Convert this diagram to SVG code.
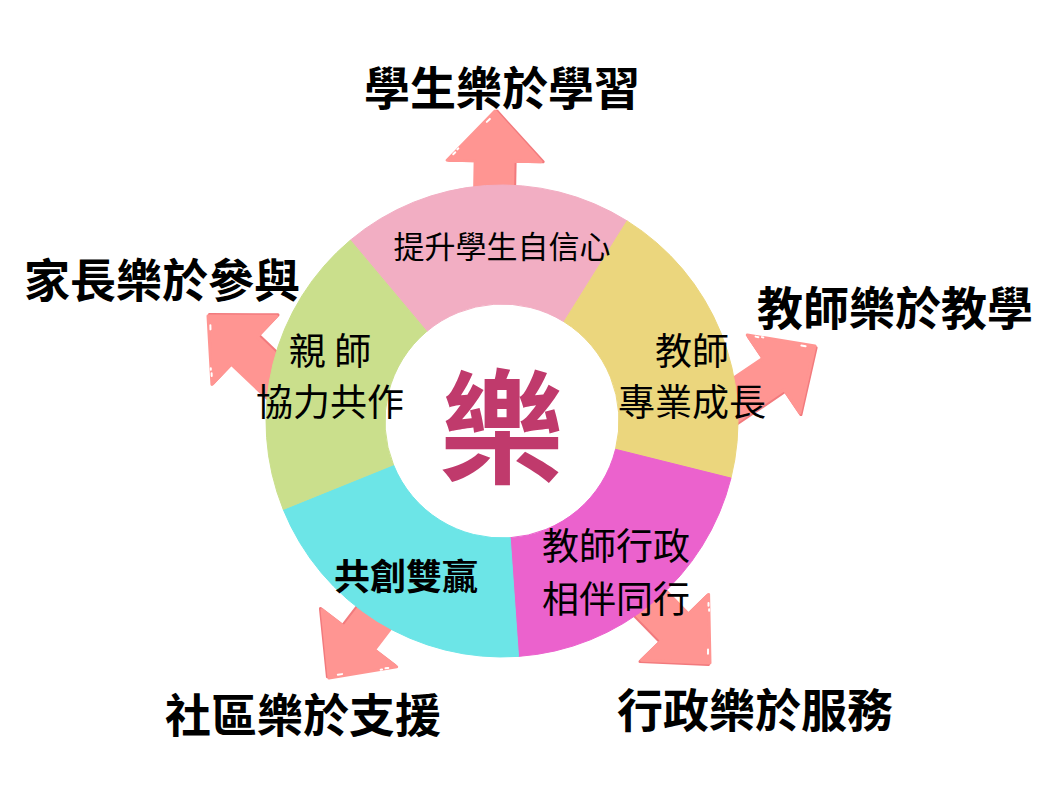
<svg xmlns="http://www.w3.org/2000/svg" width="1058" height="788" viewBox="0 0 1058 788">
<style>
.lbl{font-family:"Noto Sans CJK TC","Noto Sans CJK SC",sans-serif;fill:#000;text-anchor:middle}
.outer{font-size:46px;font-weight:700}
.inner{font-size:37px;font-weight:400}
.arrow{fill:#FF9592;stroke:#FF9592;stroke-width:3;stroke-linejoin:round}
.ashade{fill:#F27A7D;stroke:#F27A7D;stroke-width:3;stroke-linejoin:round}
.hl{stroke:#fff;stroke-width:2;stroke-linecap:round;fill:none}
.seg{stroke-width:1}
</style>
<defs>
<g id="arrowShape">
<path class="ashade" d="M0,2 L-50,49 L-50,21 L-130,21 L-130,-17 L-50,-17 L-50,-45 Z"/>
<path class="arrow" d="M0,0 L-50,-47 L-50,-19 L-130,-19 L-130,19 L-50,19 L-50,47 Z"/>
<path class="hl" d="M-8,-5 L-11,-8 M-42,-39 L-44,-41 M-38,-36 L-39,-37"/>
</g>
</defs>
<rect width="1058" height="788" fill="#fff"/>
<g id="connectors">
<use href="#arrowShape" transform="translate(495,111) rotate(-89)"/>
<use href="#arrowShape" transform="translate(815,346) rotate(-34)"/>
<use href="#arrowShape" transform="translate(710,663) rotate(45.6)"/>
<use href="#arrowShape" transform="translate(329,678) rotate(127.4)"/>
<use href="#arrowShape" transform="translate(208,316) rotate(223.5)"/>
</g>
<g id="ring">
<path id="seg-pink" class="seg" fill="#F2AEC3" stroke="#F2AEC3" d="M350.3,240.2 A236,236 0 0 1 627.1,220.9 L564.0,321.8 A117,117 0 0 0 426.8,331.4 Z"/>
<path id="seg-yellow" class="seg" fill="#EBD67D" stroke="#EBD67D" d="M627.1,220.9 A236,236 0 0 1 731.0,478.1 L615.5,449.3 A117,117 0 0 0 564.0,321.8 Z"/>
<path id="seg-magenta" class="seg" fill="#EB62CD" stroke="#EB62CD" d="M731.0,478.1 A236,236 0 0 1 518.5,656.4 L510.2,537.7 A117,117 0 0 0 615.5,449.3 Z"/>
<path id="seg-cyan" class="seg" fill="#6CE5E7" stroke="#6CE5E7" d="M518.5,656.4 A236,236 0 0 1 283.2,509.4 L393.5,464.8 A117,117 0 0 0 510.2,537.7 Z"/>
<path id="seg-green" class="seg" fill="#CADF8C" stroke="#CADF8C" d="M283.2,509.4 A236,236 0 0 1 350.3,240.2 L426.8,331.4 A117,117 0 0 0 393.5,464.8 Z"/>
</g>
<g id="center">
<text class="lbl" x="502" y="474" style="font-size:124px;font-weight:700;fill:#C03A6C">樂</text>
</g>
<g id="node-pink"><text class="lbl" x="502" y="258" style="font-size:31px">提升學生自信心</text></g>
<g id="node-green"><text class="lbl inner" x="330" y="365">親 師</text><text class="lbl inner" x="330" y="416">協力共作</text></g>
<g id="node-yellow"><text class="lbl inner" x="692" y="365">教師</text><text class="lbl inner" x="692" y="416">專業成長</text></g>
<g id="node-magenta"><text class="lbl inner" x="616" y="560">教師行政</text><text class="lbl inner" x="616" y="613">相伴同行</text></g>
<g id="node-cyan"><text class="lbl" x="406" y="590" style="font-size:36px;font-weight:700">共創雙贏</text></g>
<g id="label-top"><text class="lbl outer" x="502" y="105">學生樂於學習</text></g>
<g id="label-left"><text class="lbl outer" x="162" y="297">家長樂於參與</text></g>
<g id="label-right"><text class="lbl outer" x="895" y="325">教師樂於教學</text></g>
<g id="label-bl"><text class="lbl outer" x="303" y="732">社區樂於支援</text></g>
<g id="label-br"><text class="lbl outer" x="755" y="727">行政樂於服務</text></g>
</svg>
